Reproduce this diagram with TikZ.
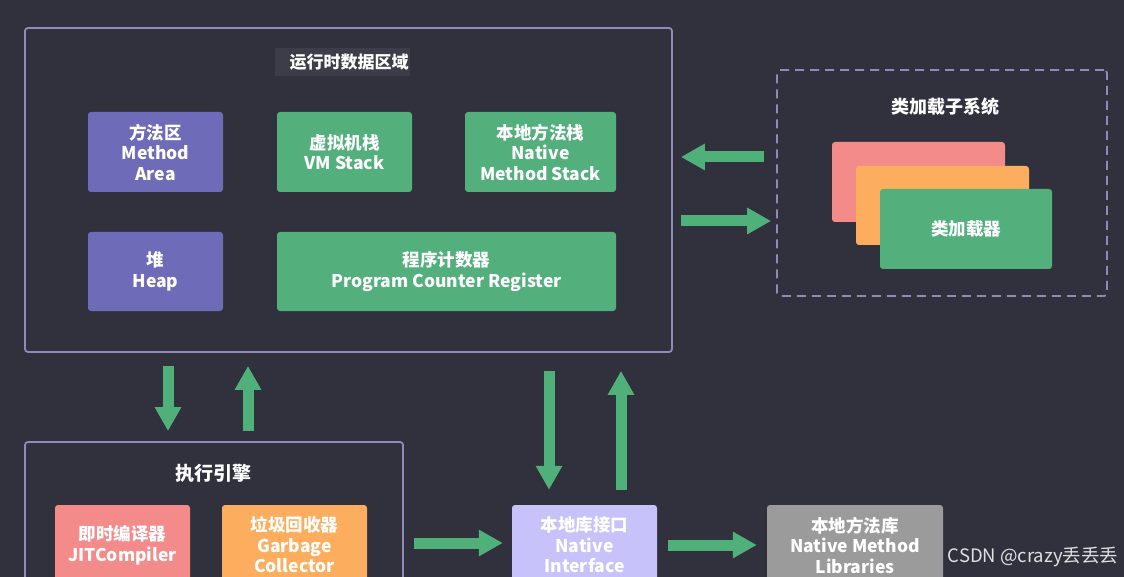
\documentclass[tikz,border=0pt]{standalone}
\usepackage{fontspec}
\setmainfont{Noto Sans CJK SC}
\usetikzlibrary{arrows.meta,calc}
\definecolor{bg}{HTML}{30313D}
\definecolor{frame}{HTML}{8E8BB8}
\definecolor{purp}{HTML}{6E6CB9}
\definecolor{grn}{HTML}{53B07D}
\definecolor{pink}{HTML}{F38B8B}
\definecolor{orng}{HTML}{FCAE5E}
\definecolor{lav}{HTML}{C7C3FA}
\definecolor{gry}{HTML}{9B9B9B}
\definecolor{arr}{HTML}{4FB07A}
\definecolor{hil}{HTML}{3C3D49}
\begin{document}
\begin{tikzpicture}[x=1pt,y=-1pt,
  box/.style={draw=none,rounded corners=3pt,inner sep=0pt,align=center,text=white,
    font=\fontsize{17.5}{20.5}\selectfont\bfseries},
  outer/.style={draw=frame,line width=1.8pt,rounded corners=3pt,inner sep=0pt},
  title/.style={text=white,font=\fontsize{17}{20}\selectfont\bfseries,inner sep=2pt},
  bigarrow/.style={draw=arr,line width=11pt,-{Triangle[width=25pt,length=24pt,fill=arr]}}
]
\useasboundingbox (0,0) rectangle (1124,577);
\fill[bg] (0,0) rectangle (1124,577);
\clip (0,0) rectangle (1124,577);

% runtime data area
\node[outer,minimum width=647pt,minimum height=324pt] (rt) at (348.5,190) {};
\node[fill=hil,minimum width=135pt,minimum height=28pt,inner sep=0pt] (hl) at (342,62) {};
\node[title] (rtT) at (349,62) {运行时数据区域};
\node[box,fill=purp,minimum width=135pt,minimum height=80pt] (ma) at (155.5,152) {方法区\\Method\\Area};
\node[box,fill=grn,minimum width=135pt,minimum height=80pt] (vm) at (344.5,152) {虚拟机栈\\VM Stack};
\node[box,fill=grn,minimum width=151pt,minimum height=80pt] (nms) at (540.5,152) {本地方法栈\\Native\\Method Stack};
\node[box,fill=purp,minimum width=135pt,minimum height=79pt] (heap) at (155.5,271.5) {堆\\Heap};
\node[box,fill=grn,minimum width=339pt,minimum height=79pt] (pc) at (446.5,271.5) {程序计数器\\Program Counter Register};

% class loader subsystem
\node[outer,dashed,dash pattern=on 9pt off 6pt,minimum width=330pt,minimum height=226pt] (cls) at (942,183) {};
\node[title,font=\fontsize{18}{20}\selectfont\bfseries] (clsT) at (945,107) {类加载子系统};
\node[box,fill=pink,minimum width=173pt,minimum height=80pt] (l1) at (918.5,182) {};
\node[box,fill=orng,minimum width=173pt,minimum height=79pt] (l2) at (942.5,205.5) {};
\node[box,fill=grn,minimum width=172pt,minimum height=80pt] (l3) at (966,229) {类加载器};

% execution engine
\node[outer,minimum width=378pt,minimum height=156pt] (ee) at (214,520) {};
\node[title,font=\fontsize{19}{20}\selectfont\bfseries] (eeT) at (213,473) {执行引擎};
\node[box,fill=pink,minimum width=135pt,minimum height=80pt] (jit) at (122.5,545) {即时编译器\\JITCompiler};
\node[box,fill=orng,minimum width=145pt,minimum height=80pt] (gc) at (294.5,545) {垃圾回收器\\Garbage\\Collector};

% native
\node[box,fill=lav,minimum width=145pt,minimum height=80pt] (ni) at (584.5,545) {本地库接口\\Native\\Interface};
\node[box,fill=gry,minimum width=176pt,minimum height=80pt] (nml) at (855,545) {本地方法库\\Native Method\\Libraries};

% watermark
\node[text=white!85!bg,font=\fontsize{18.5}{20}\selectfont,inner sep=0pt] (wm) at (1033,557) {CSDN @crazy丢丢丢};

% arrows
\draw[bigarrow,shorten <=12pt,shorten >=8pt] (cls.west |- 0,157) -- (rt.east |- 0,157);
\draw[bigarrow,shorten <=8pt,shorten >=5pt] (rt.east |- 0,221) -- (cls.west |- 0,221);
\draw[bigarrow,shorten <=13pt,shorten >=10pt] (168,0 |- rt.south) -- (168,0 |- ee.north);
\draw[bigarrow,shorten <=10pt,shorten >=13pt] (248,0 |- ee.north) -- (248,0 |- rt.south);
\draw[bigarrow,shorten <=18pt,shorten >=15pt] (549,0 |- rt.south) -- (549,0 |- ni.north);
\draw[bigarrow,shorten <=15pt,shorten >=18pt] (621,0 |- ni.north) -- (621,0 |- rt.south);
\draw[bigarrow,shorten <=10pt,shorten >=9pt] (ee.east |- 0,543) -- (ni.west |- 0,543);
\draw[bigarrow,shorten <=11pt,shorten >=10pt] (ni.east |- 0,545) -- (nml.west |- 0,545);
\end{tikzpicture}
\end{document}
